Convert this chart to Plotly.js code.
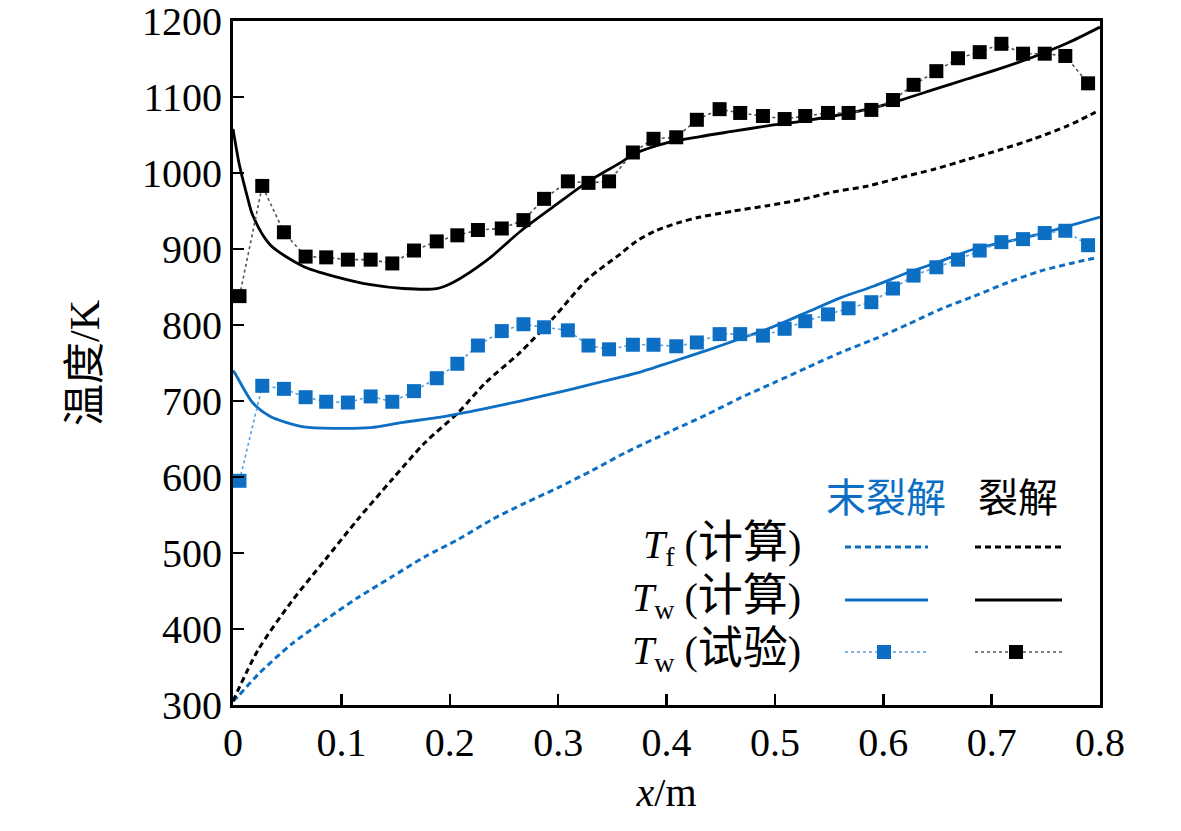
<!DOCTYPE html>
<html>
<head>
<meta charset="utf-8">
<script src="https://cdn.plot.ly/plotly-3.0.1.min.js"></script>
<style>html,body{margin:0;padding:0;background:#fff;}#chart{width:1181px;height:831px;}</style>
</head>
<body>
<div id="chart"></div>
<script>
// ---- data ----
const xTfCrack = [0, 0.023, 0.054, 0.085, 0.115, 0.147, 0.177, 0.208, 0.233, 0.265, 0.296, 0.327, 0.357, 0.372, 0.390, 0.412, 0.431, 0.462, 0.493, 0.524, 0.554, 0.586, 0.616, 0.647, 0.678, 0.709, 0.739, 0.770, 0.796];
const yTfCrack = [305, 372, 436, 491, 544, 597, 645, 685, 724, 764, 810, 860, 893, 910, 924, 935, 942, 950, 957, 965, 975, 983, 994, 1005, 1018, 1031, 1045, 1062, 1080];

const xTwCrack = [0, 0.006, 0.013, 0.018, 0.034, 0.065, 0.096, 0.127, 0.157, 0.188, 0.203, 0.235, 0.265, 0.296, 0.327, 0.358, 0.370, 0.401, 0.431, 0.462, 0.493, 0.524, 0.554, 0.586, 0.616, 0.647, 0.678, 0.709, 0.739, 0.770, 0.800];
const yTwCrack = [1058, 1010, 970, 945, 906, 877, 863, 853, 848, 848, 856, 886, 923, 956, 988, 1014, 1025, 1040, 1048, 1055, 1062, 1068, 1075, 1084, 1096, 1110, 1124, 1138, 1153, 1171, 1192];

const xTfUncrack = [0, 0.005, 0.023, 0.054, 0.085, 0.115, 0.147, 0.177, 0.208, 0.239, 0.270, 0.300, 0.332, 0.362, 0.405, 0.437, 0.468, 0.499, 0.530, 0.561, 0.591, 0.623, 0.653, 0.684, 0.715, 0.745, 0.776, 0.798];
const yTfUncrack = [305, 312, 340, 380, 412, 441, 469, 495, 518, 544, 566, 586, 609, 632, 661, 682, 704, 724, 744, 764, 781, 801, 821, 838, 856, 871, 882, 889];

const xTwUncrack = [0, 0.002, 0.018, 0.034, 0.065, 0.096, 0.127, 0.157, 0.188, 0.219, 0.249, 0.281, 0.311, 0.342, 0.373, 0.406, 0.438, 0.468, 0.499, 0.530, 0.561, 0.591, 0.623, 0.653, 0.684, 0.715, 0.745, 0.800];
const yTwUncrack = [740, 736, 698, 680, 666, 664, 665, 672, 678, 686, 695, 705, 715, 726, 737, 752, 767, 782, 798, 817, 836, 851, 869, 884, 900, 910, 920, 942];

const xExp = [0.006, 0.027, 0.047, 0.067, 0.086, 0.106, 0.127, 0.147, 0.167, 0.188, 0.207, 0.226, 0.248, 0.268, 0.287, 0.309, 0.328, 0.347, 0.369, 0.388, 0.409, 0.428, 0.449, 0.468, 0.489, 0.509, 0.528, 0.549, 0.568, 0.589, 0.609, 0.628, 0.649, 0.669, 0.689, 0.709, 0.729, 0.749, 0.768, 0.789];
const yExpCrack = [838, 983, 922, 890, 889, 886, 886, 881, 898, 910, 918, 925, 927, 938, 966, 989, 987, 989, 1027, 1045, 1047, 1070, 1084, 1079, 1075, 1071, 1075, 1079, 1079, 1083, 1096, 1116, 1134, 1151, 1159, 1170, 1157, 1157, 1154, 1118];
const yExpUncrack = [595, 720, 716, 705, 699, 698, 706, 699, 713, 730, 749, 773, 792, 801, 797, 793, 773, 768, 774, 774, 772, 777, 788, 788, 786, 795, 805, 814, 822, 830, 848, 865, 876, 886, 898, 909, 913, 921, 924, 905];

const xTicks = [0, 0.1, 0.2, 0.3, 0.4, 0.5, 0.6, 0.7, 0.8];
const yTicks = [300, 400, 500, 600, 700, 800, 900, 1000, 1100, 1200];

const BLUE = '#0c6fc4';
const BLACK = '#000000';
const SERIF = '"Times New Roman", "Liberation Serif", "DejaVu Serif", "Noto Sans CJK SC", serif';
const CJK = '"Noto Sans CJK SC", sans-serif';

const traces = [
  {x: xTfUncrack, y: yTfUncrack, mode: 'lines', line: {color: BLUE, width: 3, dash: '6px,4px', shape: 'spline', smoothing: 0.8}},
  {x: xTfCrack, y: yTfCrack, mode: 'lines', line: {color: BLACK, width: 3, dash: '6px,4px', shape: 'spline', smoothing: 0.8}},
  {x: xTwUncrack, y: yTwUncrack, mode: 'lines', line: {color: BLUE, width: 2.8, shape: 'spline', smoothing: 0.8}},
  {x: xTwCrack, y: yTwCrack, mode: 'lines', line: {color: BLACK, width: 2.8, shape: 'spline', smoothing: 0.8}},
  {x: xExp, y: yExpUncrack, mode: 'lines+markers', line: {color: '#5a9fd8', width: 1.6, dash: 'dot'},
   marker: {symbol: 'square', size: 14, color: BLUE}},
  {x: xExp, y: yExpCrack, mode: 'lines+markers', line: {color: '#555555', width: 1.6, dash: 'dot'},
   marker: {symbol: 'square', size: 14, color: BLACK}}
];

// legend helpers (paper coordinates)
const L = 233, R = 1100, T = 21, B = 705;
const px = v => (v - L) / (R - L);
const py = v => (B - v) / (B - T);

const shapes = [];
const rows = [
  {y: 547, dash: '6px,4px', w: 3, marker: false},
  {y: 600, dash: 'solid', w: 2.8, marker: false},
  {y: 652, dash: 'dot', w: 1.6, marker: true}
];
const cols = [
  {x0: 845, x1: 928, mx: 884, color: BLUE, lc: '#5a9fd8'},
  {x0: 975, x1: 1062, mx: 1016, color: BLACK, lc: '#555555'}
];
rows.forEach(r => {
  cols.forEach(c => {
    shapes.push({type: 'line', xref: 'paper', yref: 'paper', x0: px(c.x0), x1: px(c.x1), y0: py(r.y), y1: py(r.y),
      line: {color: r.marker ? c.lc : c.color, width: r.w, dash: r.dash}});
    if (r.marker) {
      shapes.push({type: 'rect', xref: 'paper', yref: 'paper', x0: px(c.mx - 7), x1: px(c.mx + 7), y0: py(r.y + 7), y1: py(r.y - 7),
        fillcolor: c.color, line: {width: 0}});
    }
  });
});

const big = s => '<span style="font-size:45px">' + s + '</span>';
const annotations = [
  {text: '末裂解', x: px(886), y: py(495), font: {family: CJK, size: 40, color: BLUE}},
  {text: '裂解', x: px(1018), y: py(495), font: {family: CJK, size: 40, color: BLACK}},
  {text: '<i>T</i><sub>f</sub> (' + big('计算') + ')', x: px(803), y: py(545), xanchor: 'right', font: {family: SERIF, size: 40, color: BLACK}},
  {text: '<i>T</i><sub>w</sub> (' + big('计算') + ')', x: px(803), y: py(598), xanchor: 'right', font: {family: SERIF, size: 40, color: BLACK}},
  {text: '<i>T</i><sub>w</sub> (' + big('试验') + ')', x: px(803), y: py(651), xanchor: 'right', font: {family: SERIF, size: 40, color: BLACK}}
].map(a => Object.assign({xref: 'paper', yref: 'paper', showarrow: false, xanchor: 'center', yanchor: 'middle'}, a));

const layout = {
  width: 1181, height: 831,
  margin: {l: L, r: 1181 - R, t: T, b: 831 - B},
  paper_bgcolor: '#fff', plot_bgcolor: '#fff',
  showlegend: false,
  font: {family: SERIF, color: BLACK},
  xaxis: {
    range: [0, 0.8], tickvals: xTicks, ticktext: xTicks.map(String),
    showgrid: false, zeroline: false, showline: true, mirror: true, linecolor: BLACK, linewidth: 3,
    ticks: 'inside', ticklen: 11, tickwidth: 2.5, tickcolor: BLACK, ticklabeloverflow: 'allow',
    tickfont: {family: SERIF, size: 40, color: BLACK},
    title: {text: '<i>x</i>/m', font: {family: SERIF, size: 40, color: BLACK}, standoff: 14}
  },
  yaxis: {
    range: [300, 1200], tickvals: yTicks, ticktext: yTicks.map(String),
    showgrid: false, zeroline: false, showline: true, mirror: true, linecolor: BLACK, linewidth: 3,
    ticks: 'inside', ticklen: 11, tickwidth: 2.5, tickcolor: BLACK, ticklabeloverflow: 'allow',
    tickfont: {family: SERIF, size: 40, color: BLACK},
    title: {text: '温度/K', font: {family: SERIF, size: 42, color: BLACK}, standoff: 30}
  },
  shapes: shapes,
  annotations: annotations
};

Plotly.newPlot('chart', traces, layout, {displayModeBar: false, staticPlot: true});
</script>
</body>
</html>
